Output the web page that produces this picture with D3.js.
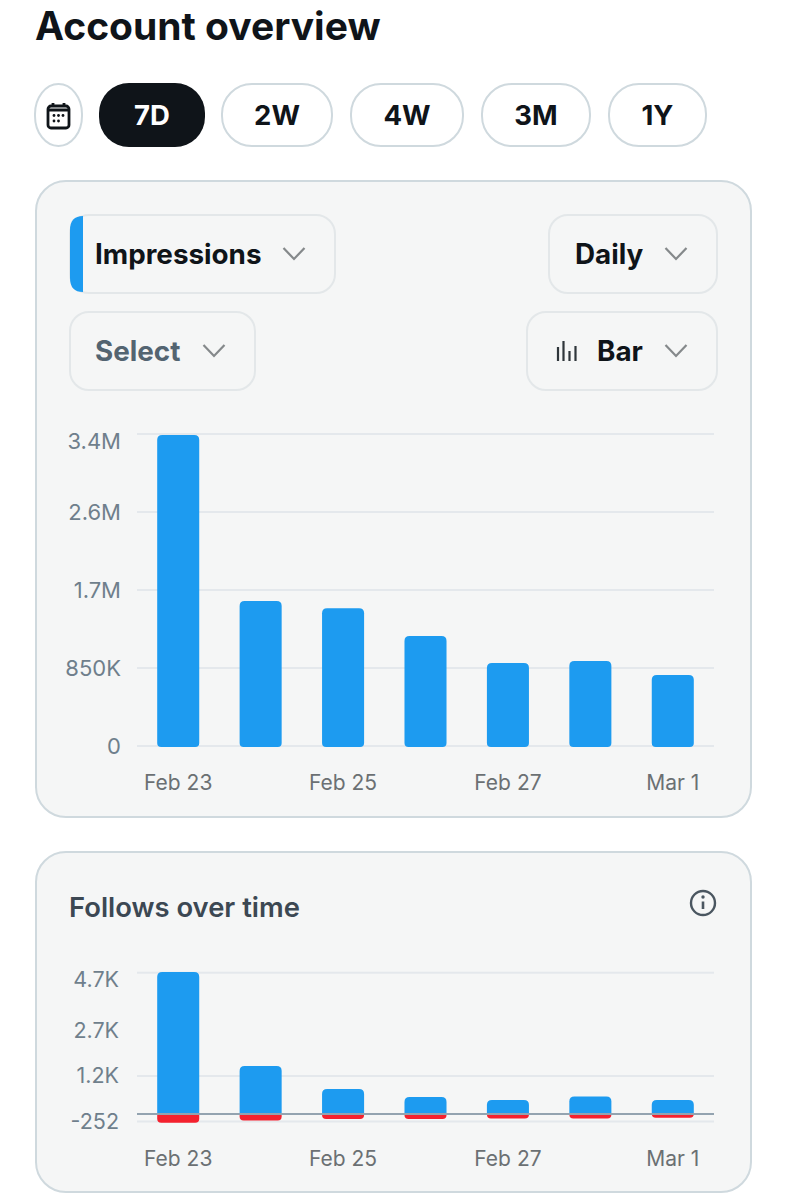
<!DOCTYPE html>
<html>
<head>
<meta charset="UTF-8">
<title>Account overview</title>
<script src="https://cdnjs.cloudflare.com/ajax/libs/d3/7.8.5/d3.min.js"></script>
<style>
  html, body { margin: 0; padding: 0; background: #fff; }
  svg { display: block; font-family: Inter, "Noto Sans", sans-serif; }
</style>
</head>
<body>
<svg id="page" width="787" height="1200"></svg>
<script>
// chart values
const days = ["Feb 23", "Feb 24", "Feb 25", "Feb 26", "Feb 27", "Feb 28", "Mar 1"];
const dayLabels = ["Feb 23", "Feb 25", "Feb 27", "Mar 1"];

const impressions = [3390000, 1580000, 1500000, 1200000, 905000, 926000, 774000];
const impressionTicks = [0, 850000, 1700000, 2550000, 3400000];
const impressionTickLabels = ["0", "850K", "1.7M", "2.6M", "3.4M"];

const followsGained = [4720, 1600, 830, 565, 465, 580, 465];
const followsLost = [-290, -215, -165, -165, -150, -150, -120];
const followTicks = [-252, 1265, 2760, 4700];
const followTickLabels = ["-252", "1.2K", "2.7K", "4.7K"];

const title = "Account overview";
const rangeLabels = ["7D", "2W", "4W", "3M", "1Y"];
const followsTitle = "Follows over time";

const BLUE = "#1d9bf0", RED = "#f4212e", INK = "#0f1419", SLATE = "#536471";
const svg = d3.select("#page");

// header
svg.append("text").attr("x", 35).attr("y", 40)
    .attr("font-size", 39).attr("font-weight", 700).attr("fill", INK).text(title);

// calendar pill + range pills
const pillBox = [[99, 205], [221, 333], [350, 464], [481, 591], [608, 707]];
svg.append("rect").attr("x", 35).attr("y", 84).attr("width", 47).attr("height", 62)
    .attr("rx", 23.5).attr("ry", 30).attr("fill", "#fff").attr("stroke", "#cfd9de").attr("stroke-width", 2);
const cal = svg.append("g").attr("transform", "translate(47,103)")
    .attr("fill", "none").attr("stroke", INK).attr("stroke-width", 2.8);
cal.append("rect").attr("x", 1).attr("y", 3).attr("width", 21).attr("height", 22).attr("rx", 3);
cal.append("path").attr("d", "M6 0v4M17 0v4M1 7h21");
cal.selectAll("circle").data([[7, 12.5], [11.5, 12.5], [16, 12.5], [7, 18], [11.5, 18]]).join("circle")
    .attr("cx", d => d[0]).attr("cy", d => d[1]).attr("r", 1.4).attr("fill", INK).attr("stroke", "none");

rangeLabels.forEach((label, i) => {
  const [x0, x1] = pillBox[i], on = i === 0;
  svg.append("rect").attr("x", x0 + (on ? 0 : 1)).attr("y", on ? 83 : 84)
      .attr("width", x1 - x0 - (on ? 0 : 2)).attr("height", on ? 64 : 62)
      .attr("rx", 30).attr("ry", 30)
      .attr("fill", on ? INK : "#fff").attr("stroke", on ? "none" : "#cfd9de").attr("stroke-width", 2);
  svg.append("text").attr("x", (x0 + x1) / 2).attr("y", 125).attr("text-anchor", "middle")
      .attr("font-size", 27.5).attr("font-weight", 700).attr("fill", on ? "#fff" : INK).text(label);
});

// cards
function card(y0, y1) {
  svg.append("rect").attr("x", 36).attr("y", y0).attr("width", 715).attr("height", y1 - y0)
      .attr("rx", 30).attr("fill", "#f5f6f6").attr("stroke", "#cfd9de").attr("stroke-width", 2);
}
card(181, 817);
card(852, 1192);

// dropdowns
function chevron(x, y) {
  svg.append("path").attr("d", `M${x - 10.5} ${y - 6}L${x} ${y + 5}L${x + 10.5} ${y - 6}`)
      .attr("fill", "none").attr("stroke", "#85898b").attr("stroke-width", 2.2);
}
function dropdown(x0, x1, y0, label, textX, chevX, colour) {
  svg.append("rect").attr("x", x0).attr("y", y0).attr("width", x1 - x0).attr("height", 78)
      .attr("rx", 19).attr("fill", "#f5f6f6").attr("stroke", "#e3e7e9").attr("stroke-width", 2);
  svg.append("text").attr("x", textX).attr("y", y0 + 49)
      .attr("font-size", 27.8).attr("font-weight", 700).attr("fill", colour).text(label);
  chevron(chevX, y0 + 39);
}
dropdown(70, 335, 215, "Impressions", 95, 294, INK);
dropdown(70, 255, 312, "Select", 95, 214, SLATE);
dropdown(549, 717, 215, "Daily", 575, 676, INK);
dropdown(527, 717, 312, "Bar", 597, 676, INK);

svg.append("path")
    .attr("d", "M83 216V292Q70 292 70 278V230Q70 216 83 216Z")
    .attr("fill", BLUE);
svg.append("path").attr("d", "M558 347v14M563.5 341v20M569.5 351v10M575.5 346v15")
    .attr("fill", "none").attr("stroke", "#2f363b").attr("stroke-width", 2.2);

// shared chart bits
const x = d3.scaleBand().domain(days).range([137, 714]).paddingInner(0.49).paddingOuter(0.245);

function roundedBar(left, w, yTop, yBot, rTop, rBot) {
  return `M${left} ${yTop + rTop}Q${left} ${yTop} ${left + rTop} ${yTop}` +
    `H${left + w - rTop}Q${left + w} ${yTop} ${left + w} ${yTop + rTop}` +
    `V${yBot - rBot}Q${left + w} ${yBot} ${left + w - rBot} ${yBot}` +
    `H${left + rBot}Q${left} ${yBot} ${left} ${yBot - rBot}Z`;
}

function yAxis(scale, ticks, labels, gridTicks, rightEdge, fontSize) {
  const g = svg.append("g").attr("transform", `translate(${rightEdge},0)`)
      .call(d3.axisLeft(scale).tickValues(ticks).tickSize(0).tickPadding(0)
          .tickFormat((d, i) => labels[i]));
  g.select(".domain").remove();
  g.selectAll("text").attr("font-size", fontSize).attr("fill", "#6f7f8c")
      .attr("font-family", "Inter, 'Noto Sans', sans-serif");
  // the top label sits under its gridline
  g.selectAll("text").filter((d, i) => i === ticks.length - 1).attr("y", 7);
  svg.append("g").selectAll("line").data(gridTicks).join("line")
      .attr("x1", 137).attr("x2", 714).attr("y1", d => scale(d)).attr("y2", d => scale(d))
      .attr("stroke", "#e4e8ec").attr("stroke-width", 2);
}

function xAxis(yPos) {
  const g = svg.append("g").attr("transform", `translate(0,${yPos})`)
      .call(d3.axisBottom(x).tickValues(dayLabels).tickSize(0).tickPadding(0));
  g.select(".domain").remove();
  g.selectAll("text").attr("font-size", 21).attr("fill", "#6b7073")
      .attr("font-family", "Inter, 'Noto Sans', sans-serif");
}

// impressions chart
const yImp = d3.scaleLinear().domain([0, 3400000]).range([746, 434]);
yAxis(yImp, impressionTicks, impressionTickLabels, impressionTicks, 121, 22);
svg.append("g").selectAll("path").data(days).join("path")
    .attr("fill", BLUE)
    .attr("d", (d, i) => roundedBar(x(d), x.bandwidth(), yImp(impressions[i]), yImp(0) + 1, 5, 4));
xAxis(775);

// follows chart
svg.append("text").attr("x", 69).attr("y", 917)
    .attr("font-size", 27.4).attr("font-weight", 600).attr("fill", "#3c4853").text(followsTitle);
const info = svg.append("g").attr("transform", "translate(703,903)");
info.append("circle").attr("r", 12).attr("fill", "none").attr("stroke", "#4a5660").attr("stroke-width", 2.4);
info.append("path").attr("d", "M0 -1.5V6").attr("stroke", "#4a5660").attr("stroke-width", 2.6);
info.append("circle").attr("cy", -6).attr("r", 1.7).attr("fill", "#4a5660");

const yFol = d3.scaleLinear().domain([-252, 4700]).range([1121.6, 972.7]);
yAxis(yFol, followTicks, followTickLabels, [-252, 1265, 4700], 119, 21.5);
svg.append("g").selectAll("path").data(days).join("path")
    .attr("fill", BLUE)
    .attr("d", (d, i) => roundedBar(x(d), x.bandwidth(), yFol(followsGained[i]), yFol(0), 5, 0));
svg.append("g").selectAll("path").data(days).join("path")
    .attr("fill", RED)
    .attr("d", (d, i) => roundedBar(x(d), x.bandwidth(), yFol(0), yFol(followsLost[i]), 0, 4));
svg.append("line").attr("x1", 137).attr("x2", 714).attr("y1", yFol(0)).attr("y2", yFol(0))
    .attr("stroke", "#93a3b0").attr("stroke-width", 2);
xAxis(1151);
</script>
</body>
</html>
